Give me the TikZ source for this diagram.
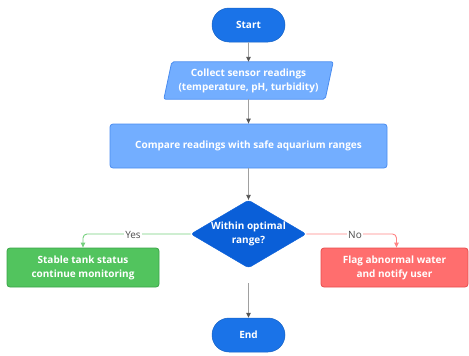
\documentclass[tikz,border=0pt]{standalone}
\usepackage{fontspec}
\setmainfont{Open Sans}
\usetikzlibrary{shapes.geometric,shapes.misc,arrows.meta,backgrounds}
\definecolor{termblue}{HTML}{1A73E8}
\definecolor{decblue}{HTML}{0A5FD8}
\definecolor{procblue}{HTML}{73AEFF}
\definecolor{procedge}{HTML}{4A8CF0}
\definecolor{okgreen}{HTML}{52C45E}
\definecolor{okedge}{HTML}{3BA448}
\definecolor{badred}{HTML}{FF6E6E}
\definecolor{badedge}{HTML}{E84C4C}
\definecolor{linegray}{HTML}{A0A0A0}
\definecolor{tipgray}{HTML}{555555}
\tikzset{
  every node/.style={font=\fontsize{10}{14}\selectfont\bfseries, text=white, align=center, inner sep=0pt},
  terminal/.style={rounded rectangle, fill=termblue, draw=termblue!85!black, line width=0.5pt, minimum width=73pt, minimum height=34pt},
  iobody/.style={rectangle, minimum width=161pt, minimum height=37pt},
  iofill/.style={fill=procblue, draw=procedge, line width=0.8pt, rounded corners=2pt},
  procbox/.style={rectangle, rounded corners=3pt, fill=procblue, draw=procedge, line width=0.8pt, minimum width=277pt, minimum height=44pt},
  decision/.style={diamond, fill=decblue, draw=decblue, aspect=1.7, minimum width=105pt, minimum height=62pt, rounded corners=3pt},
  goodbox/.style={rectangle, rounded corners=3pt, fill=okgreen, draw=okedge, line width=0.8pt, minimum width=152pt, minimum height=39pt},
  badbox/.style={rectangle, rounded corners=3pt, fill=badred, draw=badedge, line width=0.8pt, minimum width=147pt, minimum height=39pt},
  flow/.style={draw=linegray, line width=0.9pt, -{Triangle[length=5pt,width=4.5pt,fill=tipgray,color=tipgray]}},
  yesline/.style={draw=okgreen!80!white, line width=0.9pt, rounded corners=4pt, -{Triangle[length=5pt,width=4.5pt]}},
  noline/.style={draw=badred!85!white, line width=0.9pt, rounded corners=4pt, -{Triangle[length=5pt,width=4.5pt]}},
  edgelabel/.style={font=\fontsize{10}{12}\selectfont, text=black!70, fill=white, inner xsep=1pt, inner ysep=1pt}
}
\begin{document}
\begin{tikzpicture}[x=1pt,y=-1pt]
\useasboundingbox (0,0) rectangle (469,356);
\node[terminal] (start) at (248.5,25) {Start};
\node[iobody] (collect) at (248.5,80.5) {Collect sensor readings\\(temperature, pH, turbidity)};
% slanted input/output shape behind the text
\begin{scope}[on background layer]
  \path[iofill] ([xshift=4pt]collect.north west) -- ([xshift=4pt]collect.north east)
    -- ([xshift=-4pt]collect.south east) -- ([xshift=-4pt]collect.south west) -- cycle;
\end{scope}
\node[procbox] (compare) at (248.5,146) {Compare readings with safe aquarium ranges};
\node[decision] (check) at (248.5,234) {Within optimal\\range?};
\node[goodbox] (stable) at (83,267.5) {Stable tank status\\continue monitoring};
\node[badbox] (flag) at (394.5,267.5) {Flag abnormal water\\and notify user};
\node[terminal] (stop) at (248.5,335) {End};
\coordinate (gap) at (248.5,283);
\draw[flow] (start) -- (collect.north -| start);
\draw[flow] (collect.south -| start) -- (compare);
\draw[flow] (compare) -- (check);
\draw[yesline] (check.west) -| (stable.north);
\draw[noline] (check.east) -| ([xshift=2pt]flag.north);
\node[edgelabel] at (133,234.5) {Yes};
\node[edgelabel] at (355,234.5) {No};
\draw[flow] (gap) -- (stop);
\end{tikzpicture}
\end{document}
